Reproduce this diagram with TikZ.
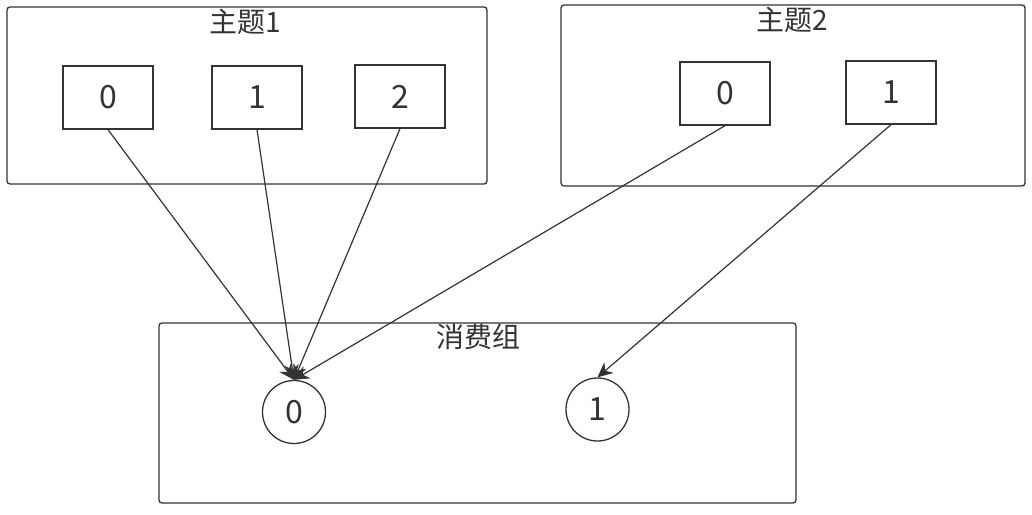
\documentclass[tikz,border=0pt]{standalone}
\usepackage{fontspec}
\setmainfont{Noto Sans CJK SC}
\usepackage{tikz}
\usetikzlibrary{positioning,arrows.meta}
\usepackage{xcolor}
\colorlet{mygray}{black!80}
\tikzstyle{group}=[draw=mygray,line width=1.3pt,rounded corners=3pt,inner sep=0]
\tikzstyle{part}=[draw=mygray,line width=1.3pt,minimum width=90pt,minimum height=63pt,inner sep=0,font=\fontsize{32}{36}\selectfont]
\tikzstyle{member}=[draw=mygray,line width=1.3pt,circle,minimum size=63pt,inner sep=0,font=\fontsize{32}{36}\selectfont]
\tikzstyle{link}=[draw=mygray,line width=1.2pt,-{Stealth[length=15pt,width=14pt]}]

\begin{document}
\begin{tikzpicture}[x=1pt,y=-1pt,font=\fontsize{28}{32}\selectfont,text=mygray]
\useasboundingbox (0,0) rectangle (1032,514);

% topic 1
\node[group,minimum width=480pt,minimum height=177pt] (tpa) at (247,95.5) {};
\node (tpalbl) at (245,22) {主题1};
\node[part] (pa0) at (108,97.5) {0};
\node[part] (pa1) at (257,97.5) {1};
\node[part] (pa2) at (400,96.5) {2};

% topic 2
\node[group,minimum width=464pt,minimum height=181pt] (tpb) at (793,95.5) {};
\node (tpblbl) at (792,20) {主题2};
\node[part] (pb0) at (725,93.5) {0};
\node[part] (pb1) at (891,92.5) {1};

% consumer group
\node[group,minimum width=637pt,minimum height=180pt] (grp) at (477.5,413) {};
\node (grplbl) at (478,337) {消费组};
\node[member] (c0) at (294,412) {0};
\node[member] (c1) at (597.5,409.5) {1};

\draw[link] (pa0.south) -- (c0.north);
\draw[link] (pa1.south) -- (c0.north);
\draw[link] (pa2.south) -- (c0.north);
\draw[link] (pb0.south) -- (c0.north);
\draw[link] (pb1.south) -- (c1.north);

\end{tikzpicture}
\end{document}
